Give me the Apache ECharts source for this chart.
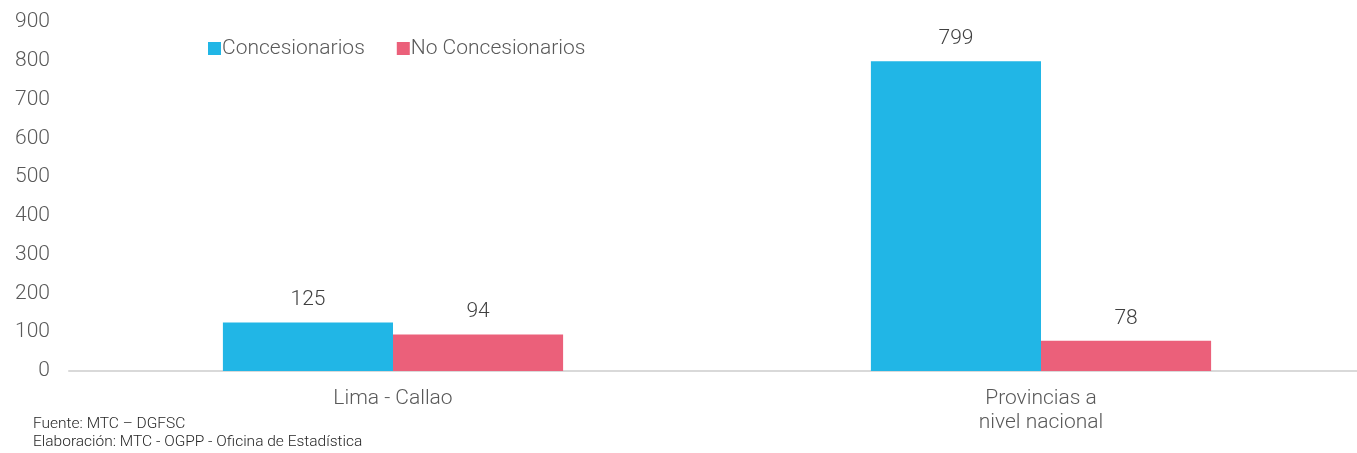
<!DOCTYPE html>
<html><head><meta charset="utf-8">
<script src="https://cdn.jsdelivr.net/npm/echarts@6/dist/echarts.min.js"></script>
<style>html,body{margin:0;padding:0;background:#fff;overflow:hidden;width:1357px;height:453px;}#c{width:1365px;height:453px;}</style>
</head><body><div id="c"></div>
<script>
const categories = ['Lima - Callao', 'Provincias a\nnivel nacional'];
const concesionarios = [125, 799];
const noConcesionarios = [94, 78];
const yTicks = [0, 100, 200, 300, 400, 500, 600, 700, 800, 900];
const FONT = 'Roboto';
const chart = echarts.init(document.getElementById('c'));
chart.setOption({
  animation: false,
  textStyle: {fontFamily: FONT},
  grid: {left: 69, right: 0, top: 22, bottom: 82, containLabel: false},
  legend: {
    left: 203, top: 33, itemWidth: 13, itemHeight: 13, itemGap: 32,
    icon: 'rect',
    textStyle: {fontFamily: FONT, fontWeight: 300, fontSize: 21, color: '#595959', padding: [0,0,0,-4]},
    data: ['Concesionarios', 'No Concesionarios']
  },
  xAxis: {
    type: 'category', data: categories,
    axisLine: {lineStyle: {color: '#d9d9d9', width: 2}},
    axisTick: {show: false},
    axisLabel: {fontFamily: FONT, fontWeight: 300, fontSize: 21, color: '#595959', margin: 16, lineHeight: 24}
  },
  yAxis: {
    type: 'value', min: yTicks[0], max: yTicks[yTicks.length-1], interval: 100,
    splitLine: {show: false}, axisLine: {show: false}, axisTick: {show: false},
    axisLabel: {fontFamily: FONT, fontWeight: 300, fontSize: 21, color: '#595959', margin: 19}
  },
  series: [
    {name: 'Concesionarios', type: 'bar', data: concesionarios, barGap: '0%', barCategoryGap: '47.5%',
     itemStyle: {color: '#21B6E6'},
     label: {show: true, position: 'top', distance: 12, fontFamily: FONT, fontWeight: 300, fontSize: 21, color: '#404040'}},
    {name: 'No Concesionarios', type: 'bar', data: noConcesionarios,
     itemStyle: {color: '#EB607A'},
     label: {show: true, position: 'top', distance: 12, fontFamily: FONT, fontWeight: 300, fontSize: 21, color: '#404040'}}
  ],
  graphic: [
    {type: 'text', left: 33, top: 416, style: {text: 'Fuente: MTC – DGFSC', font: '300 15.5px Roboto', fill: '#262626'}},
    {type: 'text', left: 33, top: 434, style: {text: 'Elaboración: MTC - OGPP - Oficina de Estadística', font: '300 15.5px Roboto', fill: '#262626'}}
  ]
});
</script></body></html>
